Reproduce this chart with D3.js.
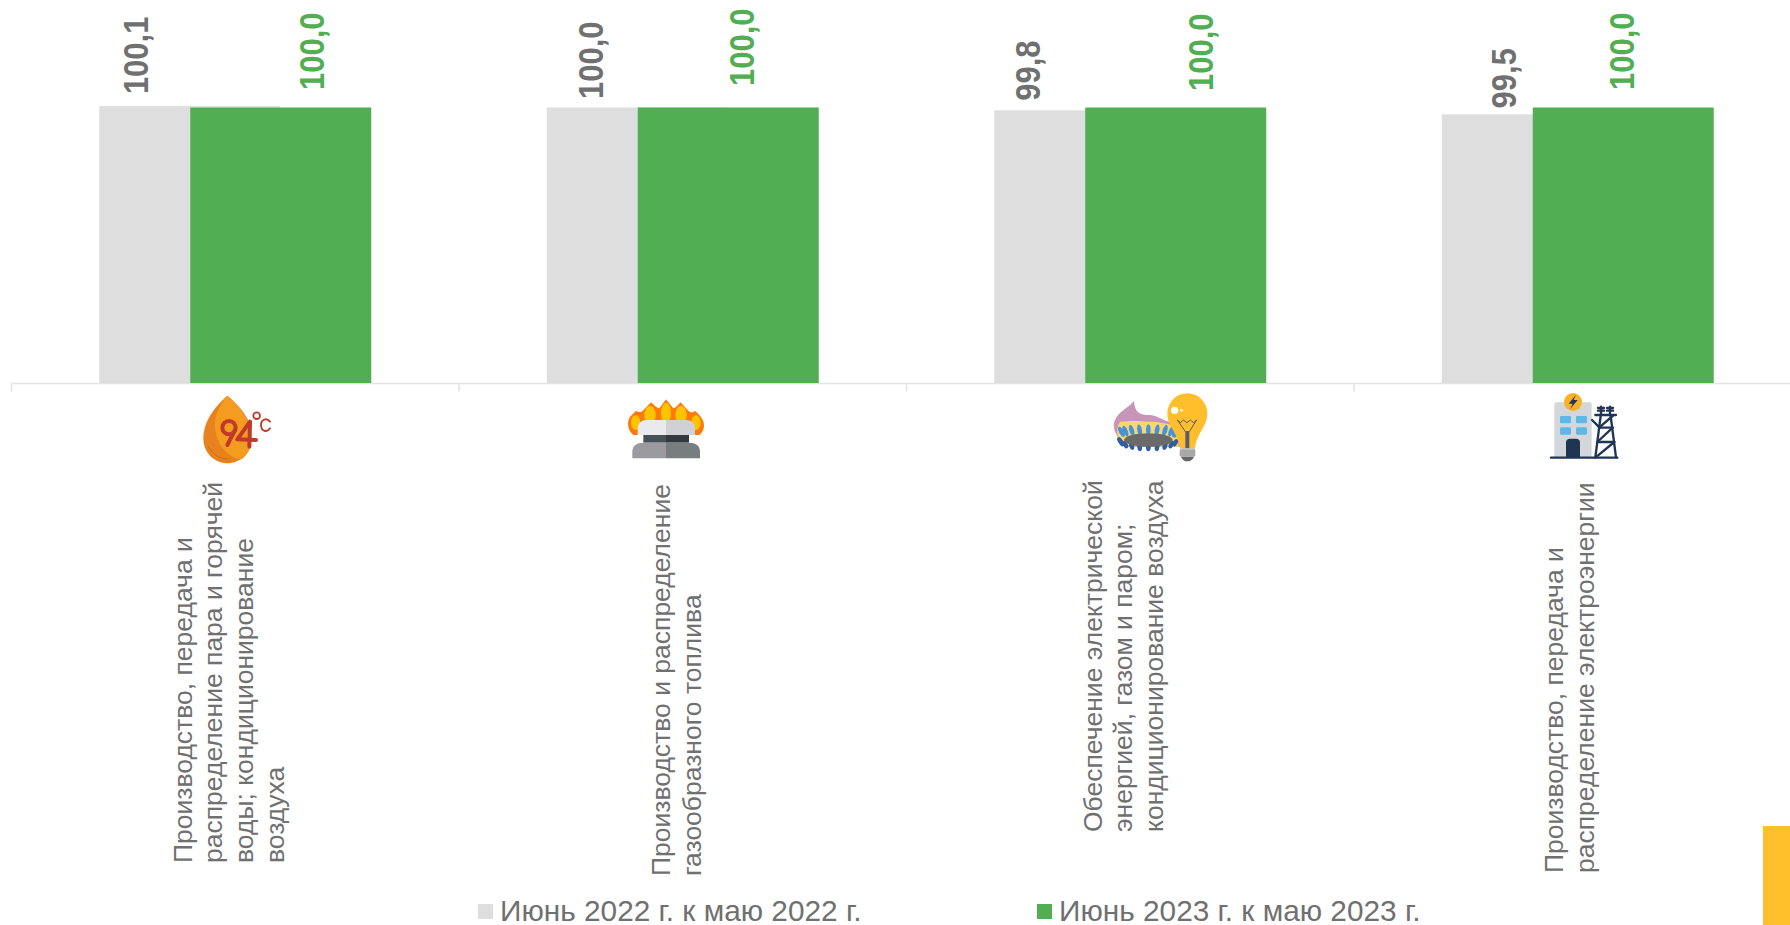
<!DOCTYPE html>
<html>
<head>
<meta charset="utf-8">
<script src="https://cdn.jsdelivr.net/npm/d3@7"></script>
<style>
html, body { margin: 0; padding: 0; background: #fff; overflow: hidden; }
text { font-family: "Liberation Sans", Arial, sans-serif; }
</style>
</head>
<body>
<svg id="chart" width="1790" height="925"></svg>
<script>
const categories = ['heat', 'gas', 'supply', 'power']
const categoryLabels = [
    ['Производство, передача и', 'распределение пара и горячей', 'воды; кондиционирование', 'воздуха'],
    ['Производство и распределение', 'газообразного топлива'],
    ['Обеспечение электрической', 'энергией, газом и паром;', 'кондиционирование воздуха'],
    ['Производство, передача и', 'распределение электроэнергии']
]
const june2022 = [100.1, 100.0, 99.8, 99.5]
const june2023 = [100.0, 100.0, 100.0, 100.0]
const seriesNames = ['Июнь 2022 г. к маю 2022 г.', 'Июнь 2023 г. к маю 2023 г.']
const colorList = ['#dedede', '#51ae53']
const labelColors = ['#707070', '#51ae53']

// data labels were dragged by hand in the original, so each has its own nudge from its bar
const labelDx = [[-41.5, -34, -45, -16], [43.5, 25.5, 37, 10.5]]
const labelGap = [[12, 8.5, 9.5, 6], [17.5, 21.5, 16.5, 17.5]]

// category label placement: first line baseline and where the lines start
const catBaseline = [191.7, 670, 1101.7, 1563]
const catStart = [863, 876, 832, 873]
const LINE_H = 30.7

const $svg = d3.select('#chart')

const x = d3.scaleBand().domain(categories).range([11.5, 1801.5]).padding(0)
const y = d3.scaleLinear().domain([80, 100]).range([383, 107.5])
const BAR_W = 181
const centers = [-45.5, 45.5]
const barCenter = (i, s) => x(categories[i]) + x.bandwidth() / 2 + centers[s]

// axis line and category ticks
const $axis = $svg.append('g').attr('transform', `translate(0, ${y(80) + 0.5})`)
$axis.call(d3.axisBottom(x).tickSize(8).tickFormat(''))
$axis.selectAll('.tick').attr('transform', d => `translate(${x(d)}, 0)`)
$axis.selectAll('line, path').attr('stroke', '#e4e4e4').attr('stroke-width', 1.6)
$axis.select('.domain').attr('d', `M11.5,0H1790`)

;[june2022, june2023].forEach((values, s) => {
    $svg.append('g').selectAll('rect')
        .data(values)
        .join('rect')
        .attr('x', (d, i) => barCenter(i, s) - BAR_W / 2)
        .attr('y', d => y(d))
        .attr('width', BAR_W)
        .attr('height', d => y(80) - y(d))
        .attr('fill', colorList[s])

    $svg.append('g').selectAll('text')
        .data(values)
        .join('text')
        .attr('transform', (d, i) =>
            `translate(${barCenter(i, s) + labelDx[s][i]}, ${y(d) - labelGap[s][i]}) rotate(-90) scale(1, 1.12)`)
        .attr('font-size', 31)
        .attr('font-weight', 'bold')
        .attr('fill', labelColors[s])
        .text(d => d.toFixed(1).replace('.', ','))
})

// category labels
categoryLabels.forEach((lines, i) => {
    $svg.append('g').selectAll('text').data(lines).join('text')
        .attr('transform', (d, j) => `translate(${catBaseline[i] + j * LINE_H}, ${catStart[i]}) rotate(-90)`)
        .attr('font-size', 26.5)
        .attr('fill', '#707070')
        .text(d => d)
})

// legend
const legendX = [478, 1037]
seriesNames.forEach((name, i) => {
    $svg.append('rect').attr('x', legendX[i]).attr('y', 904).attr('width', 15).attr('height', 15).attr('fill', colorList[i])
    $svg.append('text').attr('x', legendX[i] + 22).attr('y', 921)
        .attr('font-size', 29.8).attr('fill', '#707070').text(name)
})

// yellow corner block
$svg.append('rect').attr('x', 1763).attr('y', 826).attr('width', 27).attr('height', 99).attr('fill', '#ffc02b')

// icons under the axis, drawn in a 3x space with the origin at the given corner
function icon(ox, oy) {
    return $svg.append('g').attr('transform', `translate(${ox}, ${oy}) scale(${1 / 3})`)
}

function drawDrop() {
    const g = icon(150, 380)
    const red = '#c0392b'
    g.append('path').attr('fill', '#e8821f')
        .attr('d', 'M232,47C200,75 160,120 160,175C160,220 195,250 232,250C265,250 300,225 303,190L303,140C290,100 255,65 232,47Z')
    g.append('path').attr('fill', '#f39c1f')
        .attr('d', 'M232,47C205,80 193,110 195,140C197,190 235,235 275,238C290,225 303,210 305,170C305,120 260,70 232,47Z')
    g.append('path').attr('fill', 'none').attr('stroke', '#c96a1e').attr('stroke-width', 3).attr('stroke-linecap', 'round')
        .attr('d', 'M176,200C188,225 210,237 233,237')
    const strokes = [
        ['M255,150L232,195', 12], ['M300,125L262,178L318,180', 12], ['M300,130L298,200', 12],
        ['M360,125C350,112 333,118 333,135C333,155 352,158 360,145', 5.5]
    ]
    strokes.forEach(([d, w]) => g.append('path').attr('d', d).attr('fill', 'none')
        .attr('stroke', red).attr('stroke-width', w).attr('stroke-linecap', 'round').attr('stroke-linejoin', 'round'))
    g.append('circle').attr('cx', 237).attr('cy', 143).attr('r', 20).attr('fill', 'none').attr('stroke', red).attr('stroke-width', 12)
    g.append('circle').attr('cx', 320).attr('cy', 107).attr('r', 10).attr('fill', '#fff').attr('stroke', red).attr('stroke-width', 5.5)
}

function drawBurner() {
    const g = icon(600, 380)
    g.append('path').attr('fill', '#ff7a0d')
        .attr('d', 'M100,165C82,150 80,125 90,110L108,92C118,100 125,95 128,92L153,67C165,78 172,85 178,85L198,58L220,85C228,85 235,72 242,67L265,92C272,100 280,97 285,92C300,105 312,120 312,135C312,150 305,160 298,165Z')
    const flames = [[107, 128, 14, 22], [150, 105, 17, 28], [198, 100, 15, 32], [243, 105, 17, 28], [288, 128, 14, 22]]
    g.selectAll('ellipse').data(flames).join('ellipse')
        .attr('cx', d => d[0]).attr('cy', d => d[1]).attr('rx', d => d[2]).attr('ry', d => d[3]).attr('fill', '#ffc400')
    g.append('path').attr('fill', '#e9e9ee').attr('d', 'M113,165V145C113,130 125,120 140,120H198V165Z')
    g.append('path').attr('fill', '#d0d0d6').attr('d', 'M198,120H258C273,120 285,130 285,145V165H198Z')
    g.append('rect').attr('x', 130).attr('y', 165).attr('width', 68).attr('height', 23).attr('fill', '#474f57')
    g.append('rect').attr('x', 198).attr('y', 165).attr('width', 69).attr('height', 23).attr('fill', '#33393e')
    g.append('path').attr('fill', '#9a9a9f').attr('d', 'M97,235V215C97,197 110,188 130,188H198V235Z')
    g.append('path').attr('fill', '#787d80').attr('d', 'M198,188H267C287,188 300,197 300,215V235H198Z')
}

function drawBulb() {
    const g = icon(1080, 380)
    g.append('path').attr('fill', '#c795b8')
        .attr('d', 'M162,63C165,100 180,105 210,105C235,107 250,125 290,130L300,200L135,200C105,165 95,140 105,120C115,95 150,80 162,63Z')
    g.append('path').attr('fill', '#f7d774')
        .attr('d', 'M120,125C140,125 170,120 200,125C240,125 280,130 295,150L295,200L130,195C110,175 105,150 120,125Z')
    // ring of burner flames around the dark ellipse
    d3.range(0, 360, 18).forEach(a => {
        const r = a * Math.PI / 180
        const front = Math.sin(r) > 0
        g.append('ellipse')
            .attr('transform', `translate(${205 + 85 * Math.cos(r)}, ${(front ? 182 : 158) + (front ? 20 : 8) * Math.sin(r)}) rotate(${Math.cos(r) * 30})`)
            .attr('rx', 7).attr('ry', front ? 12 : 17)
            .attr('fill', front ? '#2f5f9e' : '#4a92d8')
    })
    g.append('ellipse').attr('cx', 205).attr('cy', 180).attr('rx', 73).attr('ry', 20).attr('fill', '#6a6a6a')
    g.append('path').attr('fill', '#ffbe2b')
        .attr('d', 'M262,100A60,60 0 1,1 382,100C382,140 350,160 345,205L300,205C295,160 262,140 262,100Z')
    g.append('circle').attr('cx', 284).attr('cy', 91).attr('r', 11).attr('fill', '#fff')
    g.append('circle').attr('cx', 305).attr('cy', 91).attr('r', 4).attr('fill', '#fff')
    g.append('path').attr('fill', 'none').attr('stroke', '#5a5a60').attr('stroke-width', 3)
        .attr('d', 'M292,120L301,128L310,120L321,128L331,120L341,128L350,120L328,155L316,155Z')
    g.append('rect').attr('x', 316).attr('y', 155).attr('width', 12).attr('height', 50).attr('fill', '#5a5a70')
    g.append('rect').attr('x', 300).attr('y', 205).attr('width', 45).attr('height', 25).attr('rx', 3).attr('fill', '#b8b8b8')
    d3.range(212, 230, 6).forEach(yy => g.append('rect').attr('x', 298).attr('y', yy).attr('width', 49).attr('height', 2).attr('fill', '#8a8a8a'))
    g.append('path').attr('fill', '#666').attr('d', 'M303,230H342C338,240 330,244 322,244C314,244 307,240 303,230Z')
}

function drawTower() {
    const g = icon(1500, 380)
    const navy = '#203554'
    g.append('rect').attr('x', 163).attr('y', 67).attr('width', 112).attr('height', 166).attr('rx', 6).attr('fill', '#d3d7dc')
    const windows = [[180, 108], [228, 108], [180, 142], [228, 142]]
    g.selectAll('.window').data(windows).join('rect').attr('class', 'window')
        .attr('x', d => d[0]).attr('y', d => d[1]).attr('width', 33).attr('height', 22).attr('rx', 4).attr('fill', '#5bb8e8')
    g.append('path').attr('fill', navy).attr('d', 'M198,232V187C198,180 203,176 210,176H228C235,176 240,180 240,187V232Z')
    g.append('circle').attr('cx', 219).attr('cy', 66).attr('r', 27).attr('fill', '#f9b222')
    g.append('path').attr('fill', navy).attr('d', 'M228,44L206,71H218L210,88L233,60H221Z')
    const lines = [
        'M153,233H352', 'M302,108L286,232', 'M332,108L348,232', 'M286,105H348', 'M297,143H338', 'M292,186H343',
        'M297,143L338,108', 'M292,186L338,143', 'M287,232L343,186', 'M276,120L296,140',
        'M303,100V80', 'M294,84H312', 'M294,92H312', 'M330,100V80', 'M321,84H339', 'M321,92H339'
    ]
    lines.forEach(d => g.append('path').attr('d', d).attr('fill', 'none')
        .attr('stroke', navy).attr('stroke-width', 7).attr('stroke-linecap', 'round'))
}

drawDrop()
drawBurner()
drawBulb()
drawTower()
</script>
</body>
</html>
